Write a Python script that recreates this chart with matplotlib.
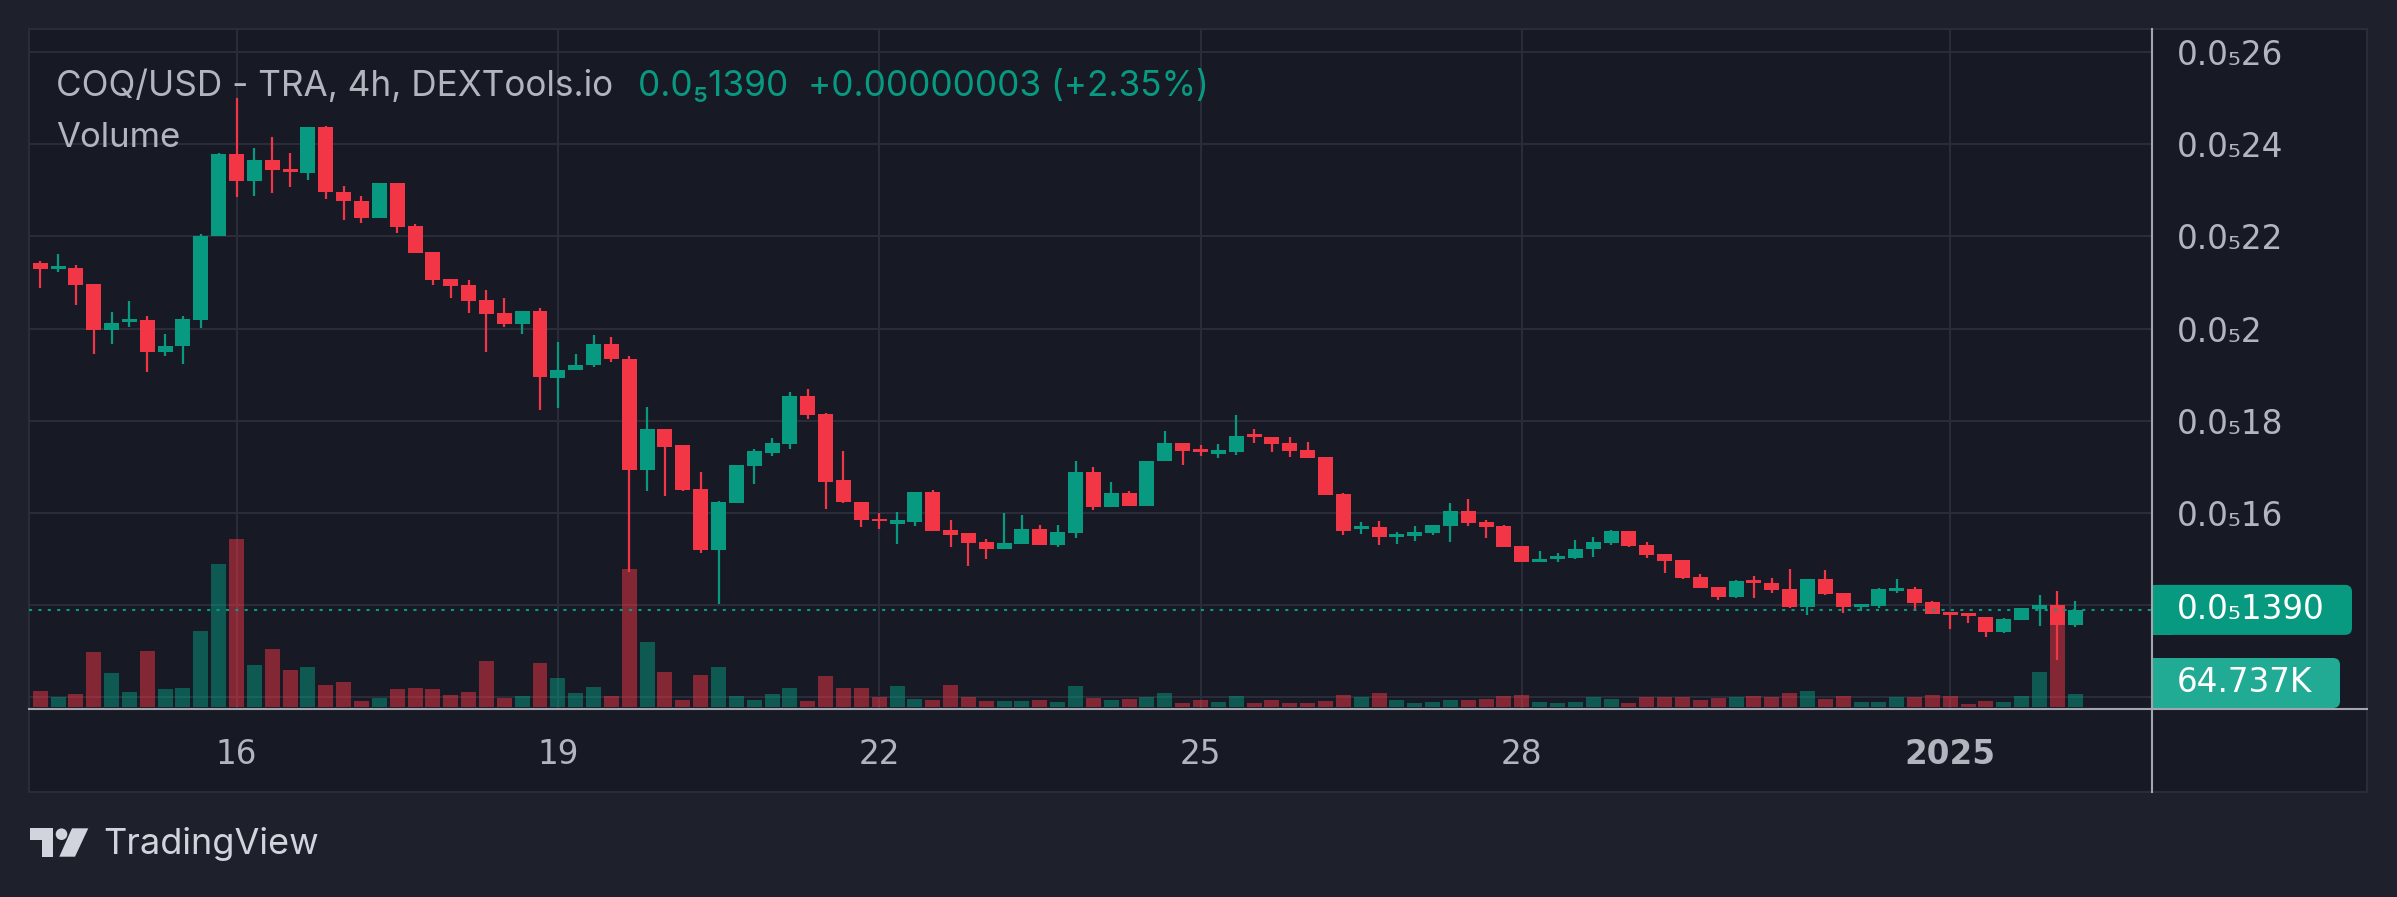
import numpy as np
import pandas as pd
import matplotlib
matplotlib.use('Agg')
import matplotlib.pyplot as plt
from matplotlib.patches import Rectangle, FancyBboxPatch, Polygon, Circle

plt.rcParams['font.family'] = ['Inter', 'DejaVu Sans']

# ----- data: COQ/USD 4h candles, prices in units of 1e-5 USD (0.2143 -> 0.0₅2143) -----
start = '2024-12-14 04:00'

opens = [0.2143, 0.2129, 0.2132, 0.2096, 0.1997, 0.2015, 0.2018, 0.1950, 0.1962, 0.2019, 0.2201,
         0.2378, 0.2321, 0.2365, 0.2346, 0.2338, 0.2437, 0.2297, 0.2277, 0.2240, 0.2315,
         0.2223, 0.2166, 0.2108, 0.2095, 0.2062, 0.2034, 0.2010, 0.2038, 0.1894, 0.1910,
         0.1921, 0.1966, 0.1935, 0.1694, 0.1783, 0.1747, 0.1653, 0.1519, 0.1621, 0.1703,
         0.1731, 0.1749, 0.1855, 0.1814, 0.1671, 0.1625, 0.1588, 0.1577, 0.1580, 0.1645,
         0.1564, 0.1556, 0.1538, 0.1523, 0.1532, 0.1566, 0.1530, 0.1556, 0.1688, 0.1613,
         0.1643, 0.1615, 0.1712, 0.1751, 0.1738, 0.1729, 0.1732, 0.1771, 0.1764, 0.1751,
         0.1736, 0.1721, 0.1641, 0.1565, 0.1570, 0.1548, 0.1550, 0.1557, 0.1572, 0.1604,
         0.1580, 0.1572, 0.1529, 0.1494, 0.1501, 0.1503, 0.1522, 0.1536, 0.1562, 0.1531,
         0.1512, 0.1499, 0.1462, 0.1440, 0.1418, 0.1455, 0.1449, 0.1436, 0.1396, 0.1457,
         0.1427, 0.1396, 0.1399, 0.1431, 0.1436, 0.1407, 0.1386, 0.1383, 0.1375, 0.1342,
         0.1368, 0.1392, 0.1401, 0.1358]
highs = [0.2146, 0.2161, 0.2139, 0.2096, 0.2037, 0.2059, 0.2028, 0.1989, 0.2028, 0.2206, 0.2380,
         0.2500, 0.2391, 0.2415, 0.2380, 0.2437, 0.2439, 0.2309, 0.2287, 0.2315, 0.2315,
         0.2227, 0.2166, 0.2108, 0.2105, 0.2084, 0.2066, 0.2038, 0.2044, 0.1970, 0.1946,
         0.1987, 0.1981, 0.1940, 0.1831, 0.1783, 0.1747, 0.1690, 0.1627, 0.1705, 0.1740,
         0.1762, 0.1862, 0.1870, 0.1818, 0.1734, 0.1625, 0.1601, 0.1603, 0.1645, 0.1651,
         0.1584, 0.1556, 0.1543, 0.1601, 0.1595, 0.1575, 0.1575, 0.1714, 0.1701, 0.1667,
         0.1647, 0.1714, 0.1779, 0.1751, 0.1747, 0.1749, 0.1812, 0.1783, 0.1766, 0.1764,
         0.1755, 0.1721, 0.1643, 0.1580, 0.1583, 0.1559, 0.1572, 0.1574, 0.1622, 0.1630,
         0.1585, 0.1574, 0.1529, 0.1518, 0.1513, 0.1542, 0.1548, 0.1564, 0.1562, 0.1538,
         0.1512, 0.1499, 0.1468, 0.1440, 0.1455, 0.1464, 0.1459, 0.1479, 0.1457, 0.1477,
         0.1427, 0.1403, 0.1438, 0.1457, 0.1440, 0.1409, 0.1386, 0.1383, 0.1375, 0.1373,
         0.1394, 0.1423, 0.1431, 0.1409]
lows = [0.2089, 0.2123, 0.2051, 0.1946, 0.1966, 0.2004, 0.1905, 0.1941, 0.1924, 0.2002, 0.2201,
        0.2286, 0.2288, 0.2295, 0.2308, 0.2323, 0.2282, 0.2236, 0.2230, 0.2240, 0.2208,
        0.2164, 0.2095, 0.2066, 0.2034, 0.1949, 0.2003, 0.1988, 0.1823, 0.1827, 0.1910,
        0.1916, 0.1927, 0.1472, 0.1647, 0.1638, 0.1647, 0.1514, 0.1402, 0.1621, 0.1664,
        0.1723, 0.1738, 0.1803, 0.1608, 0.1621, 0.1569, 0.1566, 0.1532, 0.1573, 0.1562,
        0.1527, 0.1486, 0.1501, 0.1523, 0.1532, 0.1530, 0.1527, 0.1547, 0.1607, 0.1613,
        0.1615, 0.1615, 0.1712, 0.1704, 0.1723, 0.1719, 0.1725, 0.1753, 0.1732, 0.1721,
        0.1719, 0.1639, 0.1552, 0.1555, 0.1531, 0.1533, 0.1539, 0.1552, 0.1537, 0.1572,
        0.1546, 0.1526, 0.1494, 0.1494, 0.1494, 0.1501, 0.1505, 0.1531, 0.1527, 0.1503,
        0.1470, 0.1457, 0.1438, 0.1412, 0.1416, 0.1416, 0.1427, 0.1394, 0.1379, 0.1422,
        0.1383, 0.1388, 0.1394, 0.1427, 0.1390, 0.1381, 0.1349, 0.1362, 0.1331, 0.1340,
        0.1368, 0.1355, 0.1281, 0.1353]
closes = [0.2129, 0.2135, 0.2095, 0.1997, 0.2013, 0.2021, 0.1950, 0.1963, 0.2020, 0.2202, 0.2378,
          0.2321, 0.2365, 0.2345, 0.2339, 0.2437, 0.2297, 0.2276, 0.2240, 0.2315, 0.2220,
          0.2164, 0.2106, 0.2093, 0.2060, 0.2031, 0.2010, 0.2038, 0.1895, 0.1911, 0.1922,
          0.1966, 0.1934, 0.1694, 0.1783, 0.1744, 0.1651, 0.1519, 0.1623, 0.1705, 0.1734,
          0.1751, 0.1855, 0.1812, 0.1668, 0.1623, 0.1584, 0.1582, 0.1584, 0.1645, 0.1562,
          0.1553, 0.1536, 0.1523, 0.1534, 0.1566, 0.1530, 0.1558, 0.1688, 0.1613, 0.1643,
          0.1615, 0.1714, 0.1751, 0.1734, 0.1732, 0.1736, 0.1768, 0.1764, 0.1749, 0.1734,
          0.1719, 0.1639, 0.1561, 0.1572, 0.1548, 0.1555, 0.1559, 0.1574, 0.1604, 0.1578,
          0.1570, 0.1526, 0.1494, 0.1501, 0.1507, 0.1522, 0.1537, 0.1562, 0.1529, 0.1509,
          0.1496, 0.1459, 0.1438, 0.1418, 0.1453, 0.1449, 0.1433, 0.1396, 0.1457, 0.1425,
          0.1396, 0.1403, 0.1436, 0.1438, 0.1405, 0.1381, 0.1379, 0.1377, 0.1342, 0.1370,
          0.1394, 0.1401, 0.1358, 0.1390]
# volume in thousands
volumes = [78, 49, 64, 274, 168, 74, 278, 88, 92, 378, 712,
           837, 208, 288, 184, 198, 108, 123, 29, 43, 88,
           92, 88, 57, 74, 229, 43, 53, 219, 143, 68,
           98, 54, 689, 324, 174, 34, 159, 199, 54, 34,
           64, 94, 29, 154, 94, 94, 49, 104, 39, 34,
           109, 49, 29, 29, 29, 34, 24, 104, 44, 34,
           39, 49, 69, 19, 34, 24, 54, 19, 34, 19,
           19, 29, 59, 49, 69, 34, 19, 24, 34, 34,
           39, 54, 59, 24, 19, 24, 49, 39, 19, 49,
           49, 49, 34, 45, 50, 55, 50, 70, 80, 40,
           55, 25, 25, 50, 50, 60, 55, 15, 30, 25,
           55, 175, 410, 64.737]

tick_days = ['2024-12-16', '2024-12-19', '2024-12-22', '2024-12-25', '2024-12-28', '2025-01-01']
tick_text = ['16', '19', '22', '25', '28', '2025']
price_ticks = [0.16, 0.18, 0.20, 0.22, 0.24, 0.26]
price_minor = [0.12, 0.14]

# ----- style -----
BG_OUT = '#1e212c'
BG_IN = '#171925'
GRID = '#2a2d39'
UP = '#089981'
DOWN = '#f23645'
TXT = '#b2b5be'
SEP = '#a3a6af'

W, H = 2397, 897


def frac(x0, y0, x1, y1):
    # pixel box (origin top left) -> figure fraction rect
    return [x0 / W, 1 - y1 / H, (x1 - x0) / W, (y1 - y0) / H]


def fmt_price(v, pos=None):
    return '0.0\u2085' + f'{v:.2f}'.split('.')[1].rstrip('0')


o = np.array(opens)
h = np.array(highs)
l = np.array(lows)
c = np.array(closes)
v = np.array(volumes)
n = len(o)
times = pd.date_range(start, periods=n, freq='4h')
x = np.arange(n)
tick_x = [times.get_loc(pd.Timestamp(d)) for d in tick_days]
col = np.where(c >= o, UP, DOWN)

fig = plt.figure(figsize=(W / 100, H / 100), dpi=100, facecolor=BG_OUT)

back = fig.add_axes([0, 0, 1, 1], zorder=0)
back.set_xlim(0, W)
back.set_ylim(H, 0)
back.axis('off')
back.add_patch(Rectangle((29, 29), 2338, 763, fc=BG_IN, ec=GRID, lw=1.5))

pane = frac(29, 29, 2152, 709)
ax_bg = fig.add_axes(pane, zorder=1)
ax_vol = fig.add_axes(pane, zorder=2, sharex=ax_bg)
ax = fig.add_axes(pane, zorder=3, sharex=ax_bg, sharey=ax_bg)

for a in (ax_bg, ax_vol, ax):
    a.patch.set_visible(False)
    for s in a.spines.values():
        s.set_visible(False)
ax_vol.axis('off')
ax.axis('off')

ax_bg.set_xlim(-0.625, 118.3)
ax_bg.set_ylim(0.1175, 0.2650)
ax_vol.set_ylim(-12.5, 3390)

# grid + ticks
ax_bg.set_xticks(tick_x)
ax_bg.set_xticklabels(tick_text)
ax_bg.get_xticklabels()[-1].set_fontweight('bold')
ax_bg.yaxis.tick_right()
ax_bg.set_yticks(price_ticks)
ax_bg.set_yticks(price_minor, minor=True)
ax_bg.yaxis.set_major_formatter(plt.FuncFormatter(fmt_price))
ax_bg.tick_params(which='both', length=0, colors=TXT, labelsize=23.5)
ax_bg.tick_params(axis='x', pad=21)
ax_bg.tick_params(axis='y', pad=18)
for t in ax_bg.get_xticklabels() + ax_bg.get_yticklabels():
    t.set_family('DejaVu Sans')
ax_bg.grid(True, which='both', color=GRID, lw=1.5)

# volume
ax_vol.bar(x, v, width=0.84, color=col, alpha=0.5, lw=0)

# candles
ax.vlines(x, l, h, colors=col, lw=1.6)
ax.bar(x, np.abs(c - o), bottom=np.minimum(o, c), width=0.84, color=col, lw=0)
ax.axhline(c[-1], color=UP, lw=1.5, ls=(0, (1.5, 3)))

# ----- overlay texts, labels, logo -----
front = fig.add_axes([0, 0, 1, 1], zorder=5)
front.set_xlim(0, W)
front.set_ylim(H, 0)
front.axis('off')

front.plot([2152, 2152], [29, 792], color=SEP, lw=1.5)
front.plot([29, 2367], [709, 709], color=SEP, lw=1.5)

last_txt = '0.0\u2085' + f'{c[-1]:.4f}'.split('.')[1]
front.text(56, 96, 'COQ/USD - TRA, 4h, DEXTools.io', color=TXT, fontsize=25.3, va='baseline')
front.text(638, 96, last_txt + '  +0.00000003 (+2.35%)', color=UP, fontsize=25.3, va='baseline')
front.text(56, 147, 'Volume', color=TXT, fontsize=25, va='baseline')

# last price label
yp = H - ax.transData.transform((0, c[-1]))[1]
front.add_patch(FancyBboxPatch((2152, yp - 25), 200, 50, boxstyle='round,pad=0,rounding_size=7',
                               fc=UP, ec='none'))
front.add_patch(Rectangle((2152, yp - 25), 20, 50, fc=UP, ec='none'))
front.text(2177, yp, last_txt, color='white', fontsize=23.5, family='DejaVu Sans', va='center')

# last volume label
yv = H - ax_vol.transData.transform((0, v[-1]))[1]
yv = min(yv, 708 - 25)
VCOL = '#22ab94'
front.add_patch(FancyBboxPatch((2152, yv - 25), 188, 50, boxstyle='round,pad=0,rounding_size=7',
                               fc=VCOL, ec='none'))
front.add_patch(Rectangle((2152, yv - 25), 20, 50, fc=VCOL, ec='none'))
front.text(2177, yv, f'{v[-1]:.3f}K', color='white', fontsize=23.5, family='DejaVu Sans', va='center')

# TradingView logo
LOGO = '#d1d4dc'
front.add_patch(Rectangle((30, 828.3), 23.3, 11.7, fc=LOGO, ec='none'))
front.add_patch(Rectangle((41.7, 828.3), 11.6, 28.4, fc=LOGO, ec='none'))
front.add_patch(Circle((61.5, 834.2), 5.8, fc=LOGO, ec='none'))
front.add_patch(Polygon([(72, 828.3), (88.3, 828.3), (75, 856.7), (59.3, 856.7)], fc=LOGO, ec='none'))
front.text(103, 854, 'TradingView', color=LOGO, fontsize=26, va='baseline')

fig.savefig('out.png', dpi=100, facecolor=BG_OUT)
